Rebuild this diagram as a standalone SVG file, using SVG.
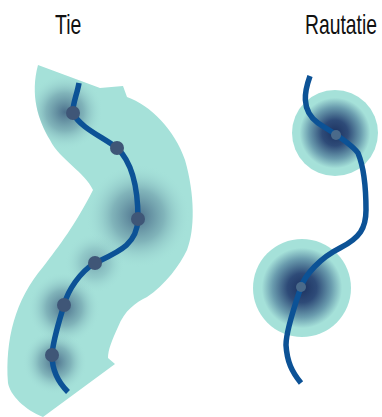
<svg xmlns="http://www.w3.org/2000/svg" width="382" height="417" viewBox="0 0 382 417">
<style>
.lbl{font-family:"Liberation Sans",Arial,sans-serif;font-size:27px;fill:#111;}
.line{fill:none;stroke:#0c5296;stroke-width:5.5;stroke-linecap:butt;stroke-linejoin:round;}
.dot{fill:#3f5677;}
.rdot{fill:#4a6a8a;}
</style>
<defs>
<radialGradient id="shade">
<stop offset="0" stop-color="#2e4a72" stop-opacity="0.75"/>
<stop offset="0.5" stop-color="#3d6080" stop-opacity="0.35"/>
<stop offset="1" stop-color="#a5e1d9" stop-opacity="0"/>
</radialGradient>
<radialGradient id="halo">
<stop offset="0" stop-color="#1c3260"/>
<stop offset="0.3" stop-color="#2e4b78"/>
<stop offset="0.6" stop-color="#6a9cae"/>
<stop offset="0.82" stop-color="#a5e1d9"/>
<stop offset="1" stop-color="#a5e1d9"/>
</radialGradient>
<clipPath id="tieclip">
<path d="M38,65 L100,88 L123,86 L127,97 C150,105 175,130 185,160 C195,195 195,230 187,250 C180,265 165,285 147,297 C135,303 125,310 118,327 C112,340 108,350 108,358 L115,364 L43,417 C25,410 10,395 8,383 C5,340 15,300 43,267 C60,245 75,225 93,190 C85,172 60,160 50,140 C38,120 30,95 38,65 Z"/>
</clipPath>
</defs>
<rect width="382" height="417" fill="#ffffff"/>
<text class="lbl" transform="translate(55,34) scale(0.72,1)">Tie</text>
<text class="lbl" transform="translate(305,34) scale(0.716,1)">Rautatie</text>
<g id="tie-zone">
<path d="M38,65 L100,88 L123,86 L127,97 C150,105 175,130 185,160 C195,195 195,230 187,250 C180,265 165,285 147,297 C135,303 125,310 118,327 C112,340 108,350 108,358 L115,364 L43,417 C25,410 10,395 8,383 C5,340 15,300 43,267 C60,245 75,225 93,190 C85,172 60,160 50,140 C38,120 30,95 38,65 Z" fill="#a5e1d9"/>
<g clip-path="url(#tieclip)">
<circle cx="65" cy="112" r="38" fill="url(#shade)"/>
<circle cx="138" cy="216" r="52" fill="url(#shade)"/>
<circle cx="95" cy="263" r="30" fill="url(#shade)" opacity="0.5"/>
<circle cx="64" cy="308" r="36" fill="url(#shade)"/>
<circle cx="55" cy="362" r="32" fill="url(#shade)"/>
</g>
</g>
<g id="rail-zones">
<circle id="zone1" cx="335" cy="133" r="43" fill="url(#halo)"/>
<circle id="zone2" cx="302" cy="288" r="49" fill="url(#halo)"/>
</g>
<g id="connectors">
<path class="line" d="M79,83 C77,95 72,105 73,113 C80,128 105,138 117,148 C132,162 138,185 138,219 C137,245 118,252 95,263 C80,272 68,290 64,305 C58,325 53,340 52,355 C52,370 58,382 68,392"/>
<path class="line" d="M310,76 C305,90 300,110 318,123 C330,131 350,142 358,153 C365,170 366,190 366,210 C366,228 360,238 340,248 C320,258 305,275 301,287 C295,305 286,330 286,345 C287,362 292,372 301,383"/>
</g>
<g id="tie-stops">
<circle class="dot" cx="73" cy="113" r="7"/>
<circle class="dot" cx="117" cy="148" r="7"/>
<circle class="dot" cx="138" cy="219" r="7"/>
<circle class="dot" cx="95" cy="263" r="7"/>
<circle class="dot" cx="64" cy="305" r="7"/>
<circle class="dot" cx="52" cy="355" r="7"/>
</g>
<g id="rail-stops">
<circle class="rdot" cx="336" cy="135" r="5"/>
<circle class="rdot" cx="301" cy="287" r="5"/>
</g>
</svg>
